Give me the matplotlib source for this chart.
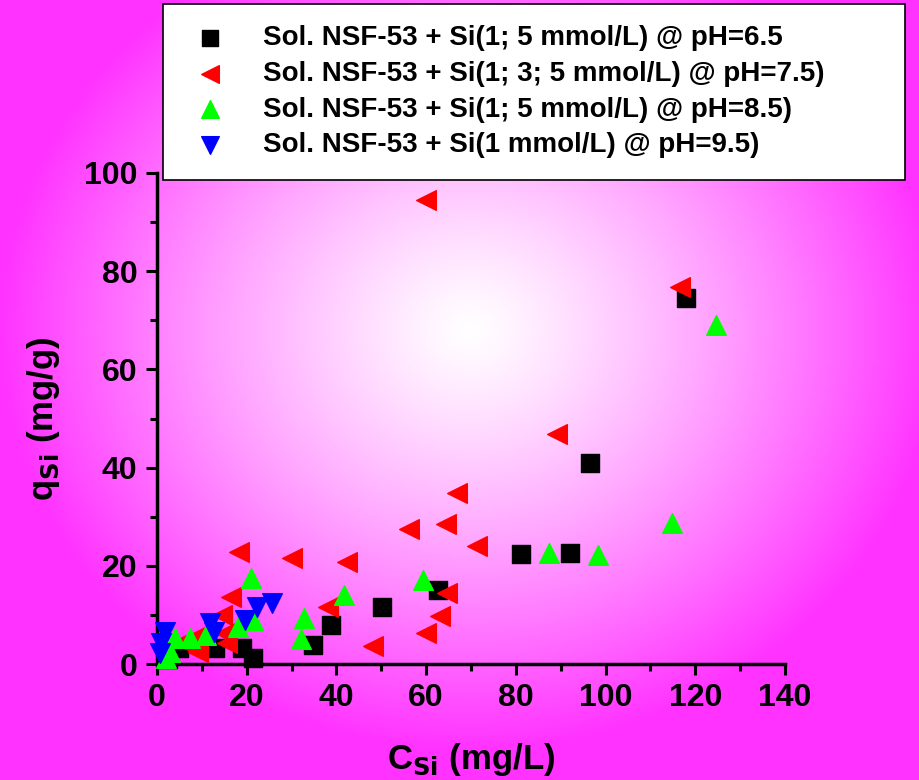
import numpy as np
import matplotlib
matplotlib.use('Agg')
import matplotlib.pyplot as plt

plt.rcParams['font.family'] = ['Liberation Sans', 'DejaVu Sans']
plt.rcParams['font.weight'] = 'bold'

# Data (C_Si in mg/L, q_Si in mg/g)
ph65_x = [117.9, 96.5, 92.0, 81.2, 62.6, 50.1, 38.8, 34.8, 18.9, 21.4, 12.9, 4.8, 2.5]
ph65_y = [74.5, 40.9, 22.7, 22.4, 15.1, 11.6, 7.9, 3.9, 3.3, 1.2, 3.3, 3.3, 1.0]

ph75_x = [60.0, 116.6, 89.1, 66.9, 64.5, 56.2, 71.4, 42.3, 30.1, 18.2, 64.6, 63.1, 60.0,
          48.2, 38.2, 16.6, 14.4, 15.2, 10.3, 9.2, 5.5, 7.4, 15.5]
ph75_y = [94.5, 76.8, 46.8, 34.9, 28.6, 27.4, 24.0, 20.7, 21.5, 22.9, 14.4, 9.8, 6.4,
          3.7, 11.6, 13.6, 10.0, 6.3, 6.3, 2.5, 4.5, 4.9, 4.2]

ph85_x = [124.6, 114.7, 98.4, 87.5, 59.4, 41.7, 32.7, 32.1, 20.9, 21.5, 18.1, 11.0, 7.4,
          4.0, 2.9, 2.1]
ph85_y = [69.0, 28.8, 22.2, 22.6, 17.1, 14.1, 9.4, 5.0, 17.5, 9.0, 7.6, 5.9, 5.2,
          5.2, 2.5, 1.2]

ph95_x = [25.6, 22.2, 19.6, 11.8, 12.6, 1.8, 1.0, 0.7]
ph95_y = [12.4, 11.7, 9.0, 8.3, 6.6, 6.6, 4.2, 2.2]

labels = ['Sol. NSF-53 + Si(1; 5 mmol/L) @ pH=6.5',
          'Sol. NSF-53 + Si(1; 3; 5 mmol/L) @ pH=7.5)',
          'Sol. NSF-53 + Si(1; 5 mmol/L) @ pH=8.5)',
          'Sol. NSF-53 + Si(1 mmol/L) @ pH=9.5)']

fig = plt.figure(figsize=(9.2, 7.8), dpi=100)

# radial background: white centre, magenta edges
bg = fig.add_axes([0, 0, 1, 1], zorder=-10)
gx, gy = np.meshgrid(np.linspace(0, 920, 460), np.linspace(0, 780, 390))
r = np.sqrt(((gx - 470) / 470.0) ** 2 + ((gy - 330) / 420.0) ** 2)
t = np.clip(r, 0, 1) ** 1.2
img = np.zeros((390, 460, 3))
img[:, :, 0] = 1.0
img[:, :, 1] = 1.0 - t * (1 - 0.2)
img[:, :, 2] = 1.0
bg.imshow(img, aspect='auto', extent=[0, 1, 0, 1])
bg.axis('off')

ax = fig.add_axes([157 / 920, 1 - 664 / 780, 628 / 920, 491 / 780])
ax.patch.set_alpha(0)

ms = 200
ax.scatter(ph65_x, ph65_y, marker='s', s=160, c='black', label=labels[0], clip_on=False, zorder=3)
ax.scatter(ph75_x, ph75_y, marker='<', s=ms, c='#ff0000', label=labels[1], clip_on=False, zorder=3)
ax.scatter(ph85_x, ph85_y, marker='^', s=ms, c='#00ff00', label=labels[2], clip_on=False, zorder=3)
ax.scatter(ph95_x, ph95_y, marker='v', s=ms, c='#0000ff', label=labels[3], clip_on=False, zorder=3)

ax.set_xlim(0, 140)
ax.set_ylim(0, 100)
ax.set_xticks(np.arange(0, 141, 20))
ax.set_xticks(np.arange(10, 141, 20), minor=True)
ax.set_yticks(np.arange(0, 101, 20))
ax.set_yticks(np.arange(10, 101, 20), minor=True)
ax.spines['top'].set_visible(False)
ax.spines['right'].set_visible(False)
for s in ['left', 'bottom']:
    ax.spines[s].set_linewidth(2.5)
ax.tick_params(which='major', direction='out', length=8, width=2.2, labelsize=23, pad=6)
ax.tick_params(which='minor', direction='out', length=5, width=2.2)
for lab in ax.get_xticklabels() + ax.get_yticklabels():
    lab.set_fontweight('bold')

ax.set_xlabel('C$_{\\mathbf{Si}}$ (mg/L)', fontsize=25, fontweight='bold', labelpad=20)
ax.set_ylabel('q$_{\\mathbf{Si}}$ (mg/g)', fontsize=25, fontweight='bold', labelpad=16)

leg = fig.legend(loc='upper left', bbox_to_anchor=(163 / 920, 1 - 12 / 780, 742 / 920, 0.01),
                 mode='expand', frameon=True, fancybox=False, fontsize=20, markerscale=0.9,
                 handletextpad=0.95, labelspacing=0.35, borderpad=0.76, handlelength=1.9,
                 borderaxespad=0)
leg.get_frame().set_edgecolor('black')
leg.get_frame().set_linewidth(1.2)
leg.get_frame().set_facecolor('white')
leg.get_frame().set_alpha(1)
for txt in leg.get_texts():
    txt.set_fontweight('bold')

plt.savefig('out.png', dpi=100)
plt.close()
